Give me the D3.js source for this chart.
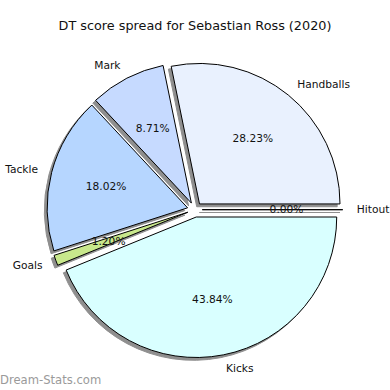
<!DOCTYPE html>
<meta charset="utf-8">
<script src="https://d3js.org/d3.v7.min.js"></script>
<style>
  body { margin: 0; background: #fff; }
  text { font-family: "DejaVu Sans", sans-serif; }
</style>
<svg id="my_dataviz" width="390" height="390"></svg>
<script>

  // slices, in the order they go round (counterclockwise from 3 o'clock)
  var categories = ["Handballs", "Mark", "Tackle", "Goals", "Kicks", "Hitout"]
  var values = [28.23, 8.71, 18.02, 1.20, 43.84, 0.00]
  var sliceColors = ["#e9f1fe", "#c6daff", "#b6d6ff", "#c8e88c", "#d9ffff", "#ffe0e0"]

  var svg = d3.select("#my_dataviz")
  var cx = 194.8, cy = 209.7, radius = 140.5
  var explode = 0.053 * radius

  var color = d3.scaleOrdinal()
    .domain(categories)
    .range(sliceColors)

  // matplotlib style: start at 0 rad (east) and go counterclockwise
  var pie = d3.pie()
    .sort(null)
    .value(function(d){ return d.value })
    .startAngle(Math.PI / 2)
    .endAngle(Math.PI / 2 - 2 * Math.PI)

  var slices = pie(categories.map(function(c, i){ return {name: c, value: values[i]} }))

  var arc = d3.arc().innerRadius(0).outerRadius(radius)

  // d3 angle -> direction in screen coords
  function dir(d) {
    var a = (d.startAngle + d.endAngle) / 2
    return [Math.sin(a), -Math.cos(a)]
  }

  svg.append("text")
    .attr("x", 195)
    .attr("y", 30)
    .attr("text-anchor", "middle")
    .style("font-size", "12.8px")
    .style("fill", "#111")
    .text("DT score spread for Sebastian Ross (2020)")

  // shadows underneath everything
  svg.append("g")
    .selectAll("path")
    .data(slices)
    .join("path")
      .attr("transform", function(d){
        var v = dir(d)
        return "translate(" + (cx + v[0] * explode - 2.8) + "," + (cy + v[1] * explode + 2.8) + ")"
      })
      .attr("d", arc)
      .attr("fill", "#8f8f8f")
      .attr("stroke", "#8f8f8f")
      .attr("stroke-width", 1)

  svg.append("g")
    .selectAll("path")
    .data(slices)
    .join("path")
      .attr("transform", function(d){
        var v = dir(d)
        return "translate(" + (cx + v[0] * explode) + "," + (cy + v[1] * explode) + ")"
      })
      .attr("d", arc)
      .attr("fill", function(d){ return color(d.data.name) })
      .attr("stroke", "#000")
      .attr("stroke-width", 1)

  // outside labels
  svg.append("g")
    .selectAll("text")
    .data(slices)
    .join("text")
      .attr("x", function(d){ return cx + dir(d)[0] * (explode + 1.1 * radius) })
      .attr("y", function(d){ return cy + dir(d)[1] * (explode + 1.1 * radius) })
      .attr("dy", "0.35em")
      .attr("text-anchor", function(d){ return dir(d)[0] > 0 ? "start" : "end" })
      .style("font-size", "10.67px")
      .style("fill", "#111")
      .text(function(d){ return d.data.name })

  // percentages
  var total = d3.sum(values)
  svg.append("g")
    .selectAll("text")
    .data(slices)
    .join("text")
      .attr("x", function(d){ return cx + dir(d)[0] * (explode + 0.6 * radius) })
      .attr("y", function(d){ return cy + dir(d)[1] * (explode + 0.6 * radius) })
      .attr("dy", "0.35em")
      .attr("text-anchor", "middle")
      .style("font-size", "10.67px")
      .style("fill", "#111")
      .text(function(d){ return (d.data.value / total * 100).toFixed(2) + "%" })

  svg.append("text")
    .attr("x", 0)
    .attr("y", 384)
    .style("font-size", "11.6px")
    .style("fill", "#9a9a9a")
    .text("Dream-Stats.com")

</script>
